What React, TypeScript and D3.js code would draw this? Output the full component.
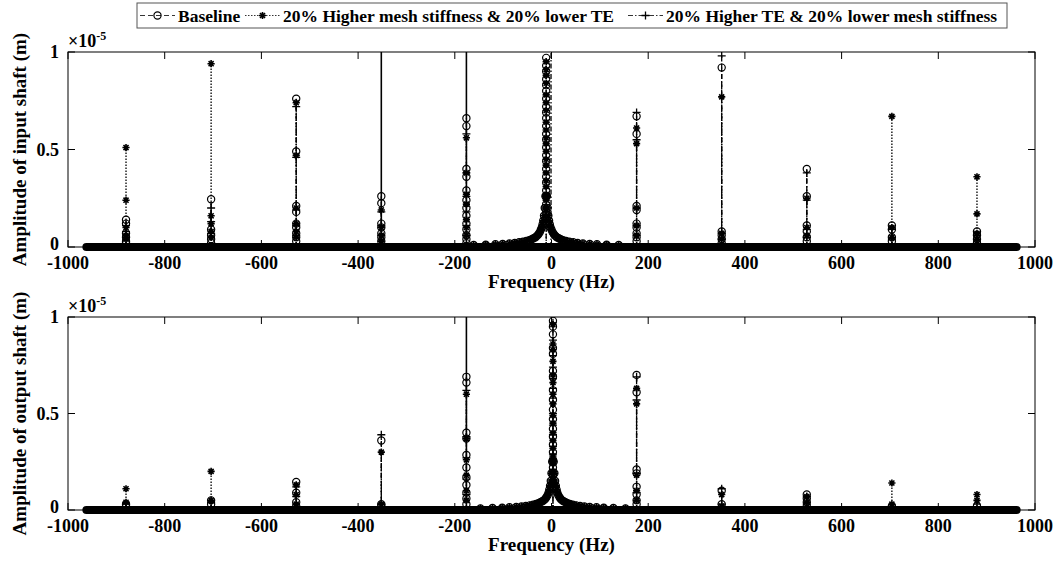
import React from 'react';
import * as d3 from 'd3';

// harmonic peaks (Hz) shared by both panels
const harmonics = [-880, -704, -528, -352, -176, 176, 352, 528, 704, 880];
const xTickValues = [-1000, -800, -600, -400, -200, 0, 200, 400, 600, 800, 1000];
const yTickValues = [0, 0.5, 1];
const floorFreqs = [-962, 962];

// amplitudes (x1e-5 m) of the markers seen at each harmonic, input shaft
const inputBaseline = [
  [0.14, 0.12, 0.07, 0.05, 0.03, 0.02],
  [0.245, 0.09, 0.06, 0.04, 0.02],
  [0.76, 0.49, 0.21, 0.18, 0.12, 0.1, 0.07, 0.05, 0.03],
  [0.26, 0.225, 0.12, 0.1, 0.07, 0.05, 0.03],
  [0.66, 0.62, 0.4, 0.36, 0.29, 0.24, 0.2, 0.16, 0.12, 0.09, 0.06, 0.04, 0.02],
  [0.67, 0.58, 0.21, 0.19, 0.12, 0.1, 0.07, 0.05, 0.03],
  [0.92, 0.08, 0.06, 0.04, 0.02],
  [0.4, 0.26, 0.11, 0.08, 0.05, 0.03],
  [0.11, 0.09, 0.05, 0.03],
  [0.08, 0.06, 0.04, 0.02],
];
const inputStiff = [
  [0.51, 0.24, 0.1, 0.06, 0.04],
  [0.94, 0.16, 0.12, 0.08, 0.05],
  [0.74, 0.47, 0.2, 0.12, 0.08, 0.05],
  [0.19, 0.1, 0.06, 0.03],
  [0.56, 0.38, 0.27, 0.22, 0.14, 0.1, 0.06],
  [0.61, 0.53, 0.2, 0.11, 0.06],
  [0.77, 0.07, 0.04],
  [0.25, 0.1, 0.06],
  [0.67, 0.1, 0.05],
  [0.36, 0.17, 0.07, 0.04],
];
const inputTE = [
  [0.11, 0.08, 0.05],
  [0.2, 0.13, 0.07],
  [0.72, 0.46, 0.19, 0.11, 0.06],
  [1.6, 0.18, 0.11, 0.06],
  [1.6, 0.58, 0.38, 0.26, 0.18, 0.11, 0.06],
  [0.69, 0.55, 0.2, 0.11, 0.06],
  [0.98, 0.07, 0.04],
  [0.38, 0.24, 0.09, 0.05],
  [0.09, 0.04],
  [0.06, 0.03],
];

// output shaft
const outputBaseline = [
  [0.03, 0.02],
  [0.05, 0.03],
  [0.145, 0.09, 0.04, 0.02],
  [0.36, 0.03, 0.02],
  [0.69, 0.66, 0.4, 0.37, 0.285, 0.22, 0.17, 0.13, 0.09, 0.06, 0.03],
  [0.7, 0.61, 0.21, 0.19, 0.12, 0.08, 0.05, 0.03],
  [0.1, 0.03],
  [0.08, 0.06, 0.04, 0.02],
  [0.02],
  [0.02],
];
const outputStiff = [
  [0.11, 0.04],
  [0.2, 0.05],
  [0.13, 0.08, 0.03],
  [0.3, 0.03],
  [0.6, 0.37, 0.26, 0.18, 0.1, 0.05],
  [0.63, 0.55, 0.18, 0.1, 0.05],
  [0.08, 0.02],
  [0.07, 0.04],
  [0.14, 0.03],
  [0.08, 0.05],
];
const outputTE = [
  [0.03],
  [0.04],
  [0.12, 0.07],
  [0.39, 0.03],
  [1.6, 0.62, 0.38, 0.27, 0.16, 0.08],
  [0.69, 0.57, 0.19, 0.09],
  [0.11, 0.03],
  [0.07, 0.03],
  [0.02],
  [0.03],
];

// central (near 0 Hz) peak: frequency per series and marker amplitudes
const inputCentralFreqs = [-11, -11, -1];
const outputCentralFreqs = [3, 3, 3];
const inputCentral = [
  [0.97, 0.93, 0.9, 0.86, 0.83, 0.8, 0.76, 0.72, 0.69, 0.66, 0.62, 0.58, 0.55, 0.51, 0.47, 0.44, 0.4, 0.36, 0.33, 0.29, 0.26, 0.22, 0.18],
  [0.95, 0.91, 0.88, 0.84, 0.78, 0.74, 0.7, 0.64, 0.6, 0.56, 0.53, 0.49, 0.45, 0.42, 0.38, 0.34, 0.31, 0.27, 0.24, 0.2],
  [1.6],
];
const outputCentral = [
  [0.98, 0.95, 0.91, 0.84, 0.81, 0.72, 0.69, 0.62, 0.57, 0.52, 0.47, 0.42, 0.38, 0.34, 0.3, 0.26, 0.22, 0.18],
  [0.96, 0.86, 0.83, 0.77, 0.7, 0.66, 0.6, 0.55, 0.49, 0.45, 0.4, 0.36, 0.32, 0.28, 0.24, 0.2],
  [0.97, 0.88, 0.8, 0.74, 0.68, 0.63, 0.58, 0.5, 0.44, 0.39, 0.33, 0.29, 0.25, 0.21],
];
// skirt of the central resonance (offset in Hz from the peak)
const skirtOffsets = [
  -150, -125, -105, -90, -76, -65, -56, -48, -41, -35, -30, -26, -22, -19, -16, -13.5, -11, -9, -7.5, -6, -4.5, -3, -1.5,
  1.5, 3, 4.5, 6, 7.5, 9, 11, 13.5, 16, 19, 22, 26, 30, 35, 41, 48, 56, 65, 76, 90, 105, 125, 150,
];
const inputSkirt = [
  0.01, 0.012, 0.014, 0.016, 0.018, 0.021, 0.024, 0.027, 0.031, 0.035, 0.04, 0.045, 0.05, 0.057, 0.065, 0.075, 0.088, 0.1, 0.115, 0.135, 0.16, 0.2, 0.26,
  0.26, 0.2, 0.16, 0.135, 0.115, 0.1, 0.088, 0.075, 0.065, 0.057, 0.05, 0.045, 0.04, 0.035, 0.031, 0.027, 0.024, 0.021, 0.018, 0.016, 0.014, 0.012, 0.01,
];
const outputSkirt = [
  0.008, 0.01, 0.012, 0.014, 0.016, 0.018, 0.021, 0.024, 0.027, 0.031, 0.035, 0.04, 0.045, 0.05, 0.057, 0.066, 0.077, 0.09, 0.105, 0.125, 0.15, 0.19, 0.25,
  0.25, 0.19, 0.15, 0.125, 0.105, 0.09, 0.077, 0.066, 0.057, 0.05, 0.045, 0.04, 0.035, 0.031, 0.027, 0.024, 0.021, 0.018, 0.016, 0.014, 0.012, 0.01, 0.008,
];

const seriesNames = [
  'Baseline',
  '20% Higher mesh stiffness & 20% lower TE',
  '20% Higher TE & 20% lower mesh stiffness',
];
const seriesMarkers = ['circle', 'star', 'plus'];
const seriesDash = ['5,3', '1.5,1.5', '5,2,1.5,2'];

const FONT = '"Liberation Serif", "Times New Roman", serif';

const x = d3.scaleLinear().domain([-1000, 1000]).range([68, 1035]);

const Marker: React.FC<{ kind: string; cx: number; cy: number }> = ({ kind, cx, cy }) => {
  if (kind === 'circle') {
    return <circle cx={cx} cy={cy} r={3.6} fill="none" stroke="#000" strokeWidth={1.2} />;
  }
  const s = kind === 'star' ? 3.6 : 4;
  const d = kind === 'star'
    ? `M${cx - s},${cy}L${cx + s},${cy}M${cx},${cy - s}L${cx},${cy + s}M${cx - s * 0.7},${cy - s * 0.7}L${cx + s * 0.7},${cy + s * 0.7}M${cx - s * 0.7},${cy + s * 0.7}L${cx + s * 0.7},${cy - s * 0.7}`
    : `M${cx - s},${cy}L${cx + s},${cy}M${cx},${cy - s}L${cx},${cy + s}`;
  return <path d={d} stroke="#000" strokeWidth={kind === 'star' ? 1.6 : 1.3} fill="none" />;
};

interface PanelProps {
  id: string;
  top: number;
  bottom: number;
  ylabel: string;
  peaks: number[][][];
  centralFreqs: number[];
  central: number[][];
  skirt: number[];
}

const Panel: React.FC<PanelProps> = ({ id, top, bottom, ylabel, peaks, centralFreqs, central, skirt }) => {
  const y = d3.scaleLinear().domain([0, 1]).range([bottom, top]);
  const [x0, x1] = x.range();
  const floorLine = d3.line<number>().x(f => x(f)).y(() => y(0));

  return (
    <g>
      <defs>
        <clipPath id={`clip-${id}`}>
          <rect x={x0} y={top} width={x1 - x0} height={bottom - top + 6} />
        </clipPath>
      </defs>
      <rect x={x0} y={top} width={x1 - x0} height={bottom - top} fill="#fff" />
      <g clipPath={`url(#clip-${id})`}>
        {/* floor of densely packed markers */}
        <path d={floorLine(floorFreqs) || ''} stroke="#000" strokeWidth={8} strokeLinecap="round" fill="none" />
        {peaks.map((series, si) => (
          <g key={si}>
            {harmonics.map((f, hi) => {
              const vals = series[hi];
              const vmax = d3.max(vals) || 0;
              return (
                <g key={hi}>
                  <line x1={x(f)} x2={x(f)} y1={y(0)} y2={y(Math.min(vmax, 1.05))}
                    stroke="#000" strokeWidth={vmax > 1 ? 1.6 : 1.3} strokeDasharray={vmax > 1 ? undefined : seriesDash[si]} />
                  {vals.filter(v => v <= 1).map((v, k) => (
                    <Marker key={k} kind={seriesMarkers[si]} cx={x(f)} cy={y(v)} />
                  ))}
                </g>
              );
            })}
            {/* central resonance */}
            <line x1={x(centralFreqs[si])} x2={x(centralFreqs[si])} y1={y(0)}
              y2={y(Math.min(d3.max(central[si]) || 0, 1.05))}
              stroke="#000" strokeWidth={1.3} strokeDasharray={seriesDash[si]} />
            {central[si].filter(v => v <= 1).map((v, k) => (
              <Marker key={`c${k}`} kind={seriesMarkers[si]} cx={x(centralFreqs[si])} cy={y(v)} />
            ))}
            {si < 2 && skirtOffsets.map((o, k) => (
              <Marker key={`s${k}`} kind={seriesMarkers[si]} cx={x(centralFreqs[si] + o)} cy={y(skirt[k])} />
            ))}
          </g>
        ))}
      </g>
      {/* frame */}
      <rect x={x0} y={top} width={x1 - x0} height={bottom - top} fill="none" stroke="#000" strokeWidth={1} />
      {xTickValues.map(t => (
        <g key={t}>
          <line x1={x(t)} x2={x(t)} y1={bottom} y2={bottom - 7} stroke="#000" />
          <line x1={x(t)} x2={x(t)} y1={top} y2={top + 7} stroke="#000" />
          <text x={x(t)} y={bottom + 22} textAnchor="middle" fontFamily={FONT} fontWeight="bold" fontSize={18}>{t}</text>
        </g>
      ))}
      {yTickValues.map(t => (
        <g key={t}>
          <line x1={x0} x2={x0 + 7} y1={y(t)} y2={y(t)} stroke="#000" />
          <line x1={x1} x2={x1 - 7} y1={y(t)} y2={y(t)} stroke="#000" />
          <text x={x0 - 9} y={y(t) + (t === 0 ? 3 : 6)} textAnchor="end" fontFamily={FONT} fontWeight="bold" fontSize={18}>{d3.format('~g')(t)}</text>
        </g>
      ))}
      <text x={x0} y={top - 5} fontFamily={FONT} fontWeight="bold" fontSize={18}>
        ×10<tspan dy={-7} fontSize={12}>-5</tspan>
      </text>
      <text x={(x0 + x1) / 2} y={bottom + 41} textAnchor="middle" fontFamily={FONT} fontWeight="bold" fontSize={19}>Frequency (Hz)</text>
      <text transform={`translate(26,${(top + bottom) / 2}) rotate(-90)`} textAnchor="middle"
        fontFamily={FONT} fontWeight="bold" fontSize={19}>{ylabel}</text>
    </g>
  );
};

const legendX = [140, 245, 628];
const legendLineW = [35, 35, 35];

const App: React.FC = () => {
  return (
    <svg width={1058} height={569} style={{ position: 'absolute', left: 0, top: 0, background: '#fff' }}>
      <Panel id="in" top={52} bottom={247} ylabel="Amplitude of input shaft (m)"
        peaks={[inputBaseline, inputStiff, inputTE]} centralFreqs={inputCentralFreqs}
        central={inputCentral} skirt={inputSkirt} />
      <Panel id="out" top={317} bottom={510} ylabel="Amplitude of output shaft (m)"
        peaks={[outputBaseline, outputStiff, outputTE]} centralFreqs={outputCentralFreqs}
        central={outputCentral} skirt={outputSkirt} />
      {/* legend */}
      <g>
        <rect x={137} y={3} width={870} height={25} fill="#fff" stroke="#555" strokeWidth={1} />
        {seriesNames.map((name, i) => (
          <g key={name}>
            <line x1={legendX[i]} x2={legendX[i] + legendLineW[i]} y1={15.5} y2={15.5}
              stroke="#000" strokeWidth={0.8} strokeDasharray={seriesDash[i]} />
            <Marker kind={seriesMarkers[i]} cx={legendX[i] + legendLineW[i] / 2} cy={15.5} />
            <text x={legendX[i] + legendLineW[i] + 3} y={21.5} fontFamily={FONT} fontWeight="bold" fontSize={17.5}>{name}</text>
          </g>
        ))}
      </g>
    </svg>
  );
};

export default App;
